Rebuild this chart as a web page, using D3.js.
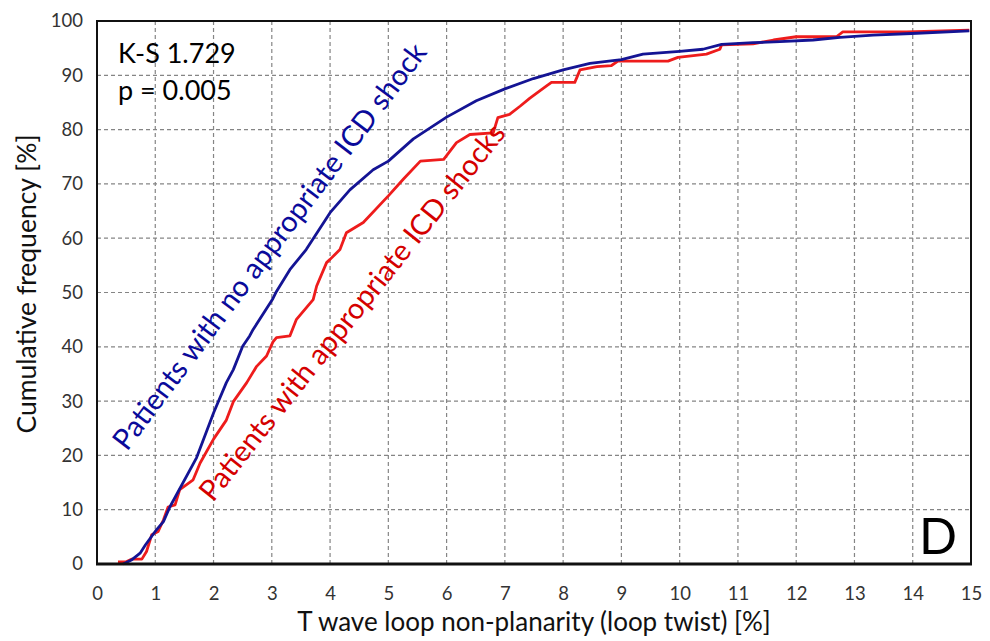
<!DOCTYPE html>
<html>
<head>
<meta charset="utf-8">
<script src="https://cdn.jsdelivr.net/npm/d3@7/dist/d3.min.js"></script>
<style>
  html, body { margin: 0; padding: 0; background: #fff; }
  svg { display: block; }
</style>
</head>
<body>
<svg id="chart" width="990" height="641"></svg>
<script>
// Cumulative distributions of loop twist, two patient groups
const noShockX = [0.45, 0.6, 0.74, 0.83, 1.02, 1.14, 1.25, 1.71, 2.0, 2.22, 2.34, 2.5, 2.62, 2.68, 3.01, 3.08, 3.31, 3.59, 4.0, 4.34, 4.74, 5.0, 5.43, 6.0, 6.51, 7.0, 7.49, 8.0, 8.46, 9.0, 9.37, 10.0, 10.4, 10.72, 11.26, 11.72, 12.29, 12.75, 13.32, 13.98, 14.97];
const noShockY = [0, 0.8, 2.0, 3.5, 6.3, 7.8, 10.5, 19.6, 27.8, 33.4, 35.8, 40.1, 42.0, 43.2, 48.7, 50.2, 54.2, 57.9, 64.7, 68.9, 72.6, 74.2, 78.3, 82.3, 85.3, 87.5, 89.4, 91.0, 92.2, 92.9, 93.9, 94.4, 94.8, 95.7, 96.0, 96.2, 96.5, 97.0, 97.4, 97.7, 98.2];

const shockX = [0.36, 0.5, 0.6, 0.77, 0.85, 0.94, 1.05, 1.14, 1.22, 1.34, 1.42, 1.65, 1.77, 2.0, 2.22, 2.34, 2.57, 2.74, 2.91, 3.02, 3.08, 3.31, 3.42, 3.71, 3.77, 3.94, 4.0, 4.17, 4.28, 4.57, 5.0, 5.26, 5.55, 5.95, 6.17, 6.4, 6.8, 6.88, 7.08, 7.26, 7.43, 7.71, 7.8, 8.2, 8.29, 8.58, 8.83, 8.94, 9.8, 9.97, 10.46, 10.69, 10.72, 11.26, 11.61, 12.0, 12.69, 12.8, 13.89, 14.97];
const shockY = [0.4, 0.4, 0.9, 0.9, 2.3, 5.4, 6.0, 8.1, 10.5, 10.9, 13.7, 15.5, 18.6, 23.0, 26.5, 29.9, 33.4, 36.4, 38.3, 40.9, 41.7, 42.0, 45.0, 48.7, 51.2, 55.5, 56.1, 57.9, 61.0, 62.9, 67.8, 70.9, 74.2, 74.5, 77.6, 79.1, 79.4, 82.2, 82.8, 84.3, 85.8, 88.0, 88.7, 88.7, 91.0, 91.6, 91.8, 92.6, 92.6, 93.3, 93.9, 94.8, 95.6, 95.8, 96.5, 97.1, 97.1, 98.0, 98.0, 98.3];

const xTicks = d3.range(0, 16, 1);
const yTicks = d3.range(0, 101, 10);

const labelNoShock = "Patients with no appropriate ICD shock";
const labelShock = "Patients with appropriate ICD shocks";
const statLines = ["K-S 1.729", "p = 0.005"];
const panelLetter = "D";
const xTitle = "T wave loop non-planarity (loop twist) [%]";
const yTitle = "Cumulative frequency [%]";

const FONT = "Lato, 'Open Sans', sans-serif";
const svg = d3.select("#chart");
const plotLeft = 97, plotRight = 971, plotTop = 21, plotBottom = 564;

const x = d3.scaleLinear().domain([0, 15]).range([plotLeft, plotRight]);
const y = d3.scaleLinear().domain([0, 100]).range([plotBottom, plotTop]);

// dashed grid
const grid = svg.append("g").attr("stroke", "#858585").attr("stroke-width", 1.2)
  .attr("stroke-dasharray", "4,3").attr("fill", "none");
grid.selectAll("line.v").data(xTicks.slice(1, -1)).join("line").attr("class", "v")
  .attr("x1", d => x(d)).attr("x2", d => x(d)).attr("y1", plotTop).attr("y2", plotBottom);
grid.selectAll("line.h").data(yTicks.slice(1, -1)).join("line").attr("class", "h")
  .attr("y1", d => y(d)).attr("y2", d => y(d)).attr("x1", plotLeft).attr("x2", plotRight);

// axes tick labels
const xAxis = svg.append("g").attr("transform", `translate(0,${plotBottom})`)
  .call(d3.axisBottom(x).tickValues(xTicks).tickSize(0).tickPadding(23).tickFormat(d3.format("d")));
xAxis.select(".domain").remove();
xAxis.selectAll("text").attr("font-family", FONT).attr("font-size", 18.5).attr("fill", "#333");

const yAxis = svg.append("g").attr("transform", `translate(${plotLeft},0)`)
  .call(d3.axisLeft(y).tickValues(yTicks).tickSize(0).tickPadding(14).tickFormat(d3.format("d")));
yAxis.select(".domain").remove();
yAxis.selectAll("text").attr("font-family", FONT).attr("font-size", 18.5).attr("fill", "#333");

// curves
const line = d3.line().x(d => x(d[0])).y(d => y(d[1]));
const plot = svg.append("g");
plot.append("path").datum(d3.zip(shockX, shockY))
  .attr("d", line).attr("fill", "none").attr("stroke", "#ee1c1c")
  .attr("stroke-width", 2.8).attr("stroke-linejoin", "round");
plot.append("path").datum(d3.zip(noShockX, noShockY))
  .attr("d", line).attr("fill", "none").attr("stroke", "#141494")
  .attr("stroke-width", 2.8).attr("stroke-linejoin", "round");

// frame
svg.append("rect").attr("x", plotLeft).attr("y", plotTop)
  .attr("width", plotRight - plotLeft).attr("height", plotBottom - plotTop)
  .attr("fill", "none").attr("stroke", "#111").attr("stroke-width", 2);
svg.append("line").attr("x1", plotLeft - 1).attr("x2", plotRight + 1)
  .attr("y1", plotBottom).attr("y2", plotBottom)
  .attr("stroke", "#111").attr("stroke-width", 3);

// statistics
svg.append("g").selectAll("text").data(statLines).join("text")
  .attr("x", 118).attr("y", (d, i) => 63 + i * 37)
  .attr("font-family", FONT).attr("font-size", 27).attr("fill", "#000").text(d => d);

// panel letter
svg.append("text").attr("x", 957).attr("y", 554).attr("text-anchor", "end")
  .attr("font-family", FONT).attr("font-size", 50).attr("fill", "#000").text(panelLetter);

// rotated curve labels
svg.append("text").attr("transform", "translate(127,452) rotate(-53)")
  .attr("font-family", FONT).attr("font-size", 29).attr("fill", "#0a0a9a")
  .attr("textLength", 500).attr("lengthAdjust", "spacingAndGlyphs").text(labelNoShock);
svg.append("text").attr("transform", "translate(213,503) rotate(-51.5)")
  .attr("font-family", FONT).attr("font-size", 29).attr("fill", "#d40000")
  .attr("textLength", 472).attr("lengthAdjust", "spacingAndGlyphs").text(labelShock);

// axis titles
svg.append("text").attr("x", 534).attr("y", 631).attr("text-anchor", "middle")
  .attr("font-family", FONT).attr("font-size", 26).attr("fill", "#111").text(xTitle);
svg.append("text").attr("transform", "translate(36,284) rotate(-90)").attr("text-anchor", "middle")
  .attr("font-family", FONT).attr("font-size", 26.5).attr("fill", "#111").text(yTitle);
</script>
</body>
</html>
